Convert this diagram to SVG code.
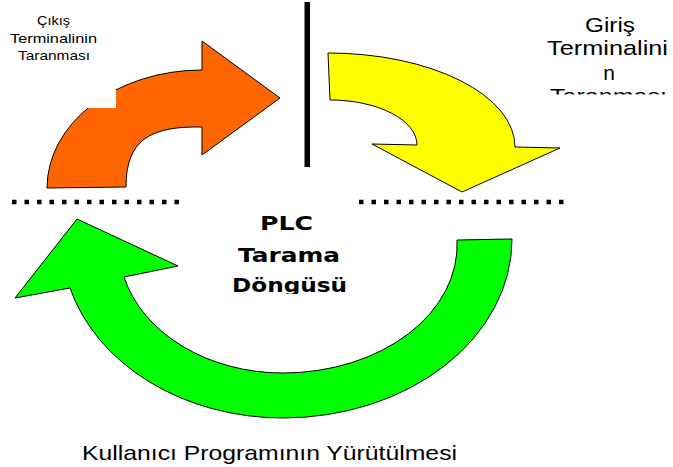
<svg xmlns="http://www.w3.org/2000/svg" width="673" height="467" viewBox="0 0 673 467">
<style>
.arrow{stroke:#000;stroke-width:1;stroke-linejoin:miter}
.lbl{font-family:"Liberation Sans",Arial,sans-serif;fill:#000;text-anchor:middle}
.bold{font-family:"DejaVu Sans","Liberation Sans",sans-serif;font-weight:bold;fill:#000;text-anchor:middle;font-size:20px}
.dots{stroke:#000;stroke-width:4.5;stroke-dasharray:4.5 8;fill:none}
</style>
<defs>
<clipPath id="clipRight"><rect x="530" y="0" width="143" height="94.5"/></clipPath>
<clipPath id="clipCenter"><rect x="200" y="200" width="200" height="94"/></clipPath>
</defs>
<rect x="0" y="0" width="673" height="467" fill="#fff"/>
<g id="connectors">
<path id="arrow-output" class="arrow" fill="#FF6600" d="M47,188 A155,118 0 0 1 202,70 L202,41 L280,98 L202,155 L202,127 C150,126 126,140 126,187 Z"/>
<rect x="86" y="80" width="30" height="28" fill="#fff"/>
<path id="arrow-input" class="arrow" fill="#FFFF00" d="M328,53 A187,94 0 0 1 515,147 L560,148 L462,192 L372,144 L417,145 A87,45 0 0 0 330,100 Z"/>
<path id="arrow-program" class="arrow" fill="#00FF00" d="M512,239 A229,179 0 0 1 283,418 A221,178 0 0 1 70,288 L15,298 L77,219 L178,266 L124,277 A164,128 0 0 0 283,373 A174,128 0 0 0 457,240 Z"/>
</g>
<g id="divider">
<rect x="304.5" y="2" width="5.5" height="165" fill="#000"/>
<line class="dots" x1="12" y1="202" x2="179" y2="202"/>
<line class="dots" x1="359" y1="202" x2="563.5" y2="202"/>
</g>
<g id="output-scan">
<text class="lbl" font-size="13.5" x="53.5" y="25" textLength="33" lengthAdjust="spacingAndGlyphs">Çıkış</text>
<text class="lbl" font-size="13.5" x="53.5" y="42.5" textLength="87" lengthAdjust="spacingAndGlyphs">Terminalinin</text>
<text class="lbl" font-size="13.5" x="54" y="60" textLength="72" lengthAdjust="spacingAndGlyphs">Taranması</text>
</g>
<g id="input-scan" clip-path="url(#clipRight)">
<text class="lbl" font-size="21" x="610" y="32" textLength="50" lengthAdjust="spacingAndGlyphs">Giriş</text>
<text class="lbl" font-size="21" x="607.5" y="55" textLength="121" lengthAdjust="spacingAndGlyphs">Terminalini</text>
<text class="lbl" font-size="21" x="609" y="80">n</text>
<text class="lbl" font-size="21" x="608.5" y="103" textLength="117" lengthAdjust="spacingAndGlyphs">Taranması</text>
</g>
<g id="center-label" clip-path="url(#clipCenter)">
<text class="bold" x="286.5" y="230" textLength="53" lengthAdjust="spacingAndGlyphs">PLC</text>
<text class="bold" x="289" y="262" textLength="102" lengthAdjust="spacingAndGlyphs">Tarama</text>
<text class="bold" x="289.5" y="292" textLength="115" lengthAdjust="spacingAndGlyphs">Döngüsü</text>
</g>
<g id="program-exec">
<text font-family="'Liberation Sans',Arial,sans-serif" font-size="21" x="82" y="460" textLength="375" lengthAdjust="spacingAndGlyphs">Kullanıcı Programının Yürütülmesi</text>
</g>
</svg>
